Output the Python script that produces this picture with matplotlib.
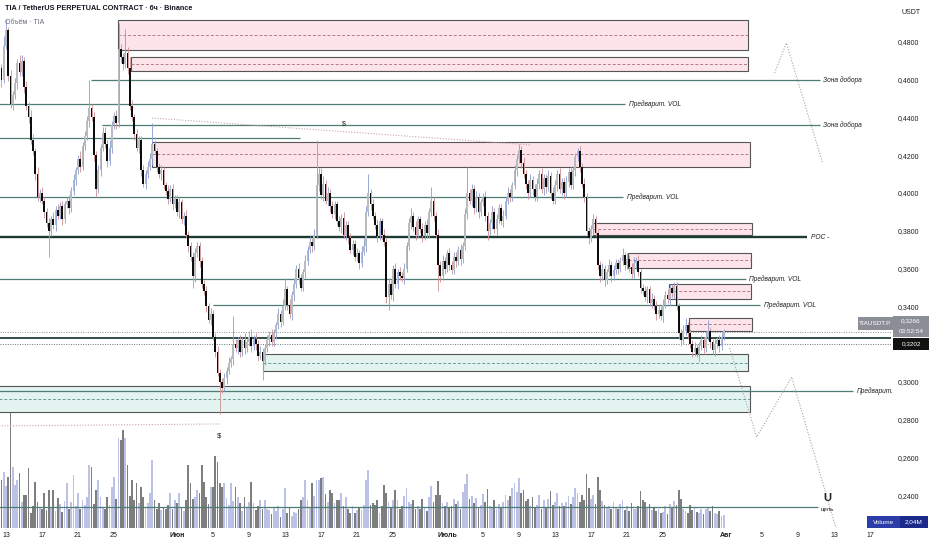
import numpy as np
import matplotlib.pyplot as plt
from matplotlib.patches import Rectangle

plt.rcParams['font.family'] = ['Liberation Sans', 'DejaVu Sans']

# --- data -----------------------------------------------------------------
# 6h candles starting 12 May (t = days since 12 May), prices in 1/1000 USDT
FIRST_OPEN = 455
CLOSE = [
    452, 466, 460, 478,  486, 462, 447, 452,  458, 469, 464, 470,  456, 446, 440, 428,
    422, 410, 398, 400,  396, 390, 384, 380,  386, 383, 391, 388,  393, 386, 394, 396,
    392, 401, 407, 412,  418, 414, 425, 430,  438, 445, 440, 420,  402, 412, 424, 432,
    426, 417, 424, 436,  441, 437, 476, 472,  468, 474, 466, 446,  440, 431, 424, 428,
    412, 405, 410, 414,  418, 426, 422, 414,  410, 412, 404, 401,  397, 402, 394, 397,
    390, 395, 386, 388,  378, 372, 366, 356,  368, 372, 364, 352,  348, 340, 333, 336,
    324, 316, 305, 300,  297, 302, 306, 310,  312, 320, 318, 322,  316, 322, 318, 321,
    324, 319, 323, 320,  314, 316, 311, 318,  322, 325, 321, 326,  330, 336, 332, 340,
    349, 341, 336, 346,  352, 360, 355, 350,  358, 364, 370, 374,  372, 378, 404, 410,
    399, 405, 396, 400,  393, 389, 394, 385,  382, 387, 378, 383,  376, 370, 373, 366,
    368, 363, 369, 372,  390, 400, 394, 388,  383, 377, 385, 378,  374, 345, 352, 346,
    360, 352, 358, 356,  355, 360, 372, 384,  388, 382, 378, 386,  381, 377, 383, 379,
    390, 396, 388, 378,  362, 356, 364, 360,  368, 362, 359, 366,  364, 370, 365, 372,
    389, 400, 396, 402,  392, 398, 390, 395,  398, 388, 380, 384,  390, 381, 386, 392,
    385, 388, 396, 400,  398, 404, 412, 418,  423, 416, 410, 405,  400, 407, 402, 398,
    405, 410, 402, 408,  403, 409, 400, 396,  404, 410, 402, 406,  400, 406, 411, 404,
    412, 419, 422, 414,  405, 398, 380, 376,  381, 386, 379, 362,  356, 360, 354, 358,
    362, 356, 359, 363,  360, 364, 367, 362,  365, 361, 357, 363,  364, 358, 350, 348,
    345, 349, 342, 344,  340, 336, 338, 335,  341, 346, 344, 350,  347, 351, 340, 326,
    322, 327, 330, 326,  320, 316, 318, 315,  319, 322, 318, 324,  327, 321, 317, 320,
    322, 319, 324, 327,
]
UP_WICK = [
    3, 4, 2, 5,  6, 2, 3, 2,  3, 2, 4, 3,  2, 3, 2, 4,  3, 2, 4, 2,  3, 2, 2, 3,
    2, 4, 2, 3,  2, 3, 2, 2,  3, 2, 3, 2,  2, 4, 2, 3,  3, 15, 2, 3,  2, 3, 2, 3,
    3, 2, 4, 2,  2, 3, 14, 3,  2, 13, 3, 6,  3, 2, 3, 2,  2, 3, 2, 3,  3, 11, 2, 2,
    2, 3, 2, 2,  3, 2, 3, 2,  2, 3, 2, 2,  3, 2, 2, 3,  3, 2, 2, 2,  2, 3, 2, 3,
    2, 2, 3, 2,  2, 3, 2, 3,  2, 15, 3, 2,  3, 2, 4, 2,  3, 4, 2, 3,  2, 3, 2, 2,
    3, 2, 3, 2,  2, 3, 2, 4,  6, 2, 3, 2,  3, 2, 3, 2,  2, 3, 2, 3,  2, 3, 24, 3,
    3, 4, 2, 3,  2, 3, 2, 2,  3, 2, 3, 2,  2, 3, 2, 2,  3, 2, 3, 4,  3, 10, 2, 3,
    2, 3, 2, 2,  3, 2, 3, 2,  2, 3, 2, 3,  2, 3, 2, 3,  4, 2, 3, 2,  2, 3, 2, 3,
    2, 7, 2, 2,  3, 2, 3, 2,  2, 3, 2, 3,  3, 2, 3, 2,  3, 14, 2, 3,  2, 3, 2, 2,
    2, 3, 2, 2,  3, 2, 3, 2,  2, 3, 2, 3,  2, 2, 3, 2,  3, 2, 3, 2,  2, 3, 2, 3,
    3, 2, 3, 2,  2, 3, 2, 3,  3, 2, 3, 2,  2, 3, 2, 3,  2, 2, 2, 3,  2, 3, 2, 2,
    2, 3, 2, 2,  2, 3, 2, 2,  3, 2, 3, 2,  2, 2, 4, 2,  3, 2, 2, 3,  2, 3, 2, 2,
    3, 2, 2, 3,  2, 3, 2, 2,  3, 2, 3, 2,  2, 2, 2, 2,  2, 3, 4, 2,  2, 2, 3, 2,
    2, 3, 2, 3,  6, 2, 2, 3,  2, 3, 3, 1,
]
DOWN_WICK = [
    3, 2, 4, 2,  2, 3, 2, 3,  2, 3, 2, 2,  3, 2, 3, 2,  2, 3, 2, 3,  2, 3, 2, 14,
    3, 2, 3, 2,  2, 3, 2, 2,  3, 2, 2, 3,  2, 3, 2, 2,  2, 3, 2, 3,  4, 2, 3, 2,
    2, 3, 2, 3,  2, 3, 2, 3,  3, 2, 3, 2,  2, 3, 2, 3,  3, 2, 3, 2,  2, 3, 2, 3,
    2, 3, 2, 2,  3, 2, 3, 2,  2, 3, 2, 3,  2, 3, 2, 6,  3, 2, 3, 2,  2, 3, 2, 3,
    2, 3, 2, 17,  3, 2, 3, 2,  2, 3, 2, 3,  3, 2, 3, 2,  2, 3, 2, 3,  3, 2, 10, 2,
    2, 3, 2, 2,  3, 2, 3, 2,  2, 3, 2, 3,  3, 2, 3, 2,  2, 3, 2, 2,  3, 2, 2, 3,
    2, 3, 2, 3,  3, 2, 3, 2,  2, 3, 2, 3,  3, 2, 3, 2,  2, 3, 2, 2,  3, 2, 3, 2,
    2, 3, 2, 3,  2, 3, 7, 2,  3, 2, 3, 2,  2, 3, 2, 2,  3, 2, 3, 2,  2, 3, 2, 3,
    3, 2, 3, 2,  14, 3, 2, 3,  2, 3, 2, 2,  3, 2, 3, 2,  2, 3, 2, 3,  3, 2, 3, 2,
    2, 3, 5, 2,  3, 2, 3, 2,  2, 3, 2, 2,  3, 2, 2, 3,  2, 3, 2, 3,  3, 2, 3, 2,
    2, 3, 2, 3,  3, 2, 3, 2,  2, 3, 2, 3,  3, 2, 3, 2,  2, 3, 2, 3,  2, 3, 2, 3,
    2, 3, 2, 2,  3, 2, 3, 2,  2, 3, 2, 2,  3, 2, 2, 3,  2, 3, 2, 2,  3, 2, 3, 2,
    2, 3, 2, 3,  2, 3, 2, 2,  3, 2, 2, 3,  2, 3, 2, 3,  3, 2, 2, 3,  2, 3, 2, 2,
    4, 2, 3, 2,  2, 3, 2, 3,  2, 3, 2, 2,
]
VOLUME = [  # millions of TIA
    9.0, 11.1, 7.5, 8.8,  6.5, 8.0, 20.3, 9.5,  6.7, 7.5, 8.6, 4.0,  5.2, 5.2, 9.4, 2.4,
    3.5, 7.2, 4.0, 3.1,  3.0, 5.5, 2.8, 5.9,  3.3, 5.9, 2.6, 4.7,  3.8, 2.5, 4.2, 7.0,
    3.0, 4.1, 8.3, 3.4,  5.5, 2.9, 4.4, 3.6,  4.9, 9.8, 9.5, 3.8,  5.9, 7.5, 4.9, 3.2,
    3.0, 4.9, 3.6, 6.4,  8.0, 4.6, 14.1, 13.8,  15.3, 14.1, 9.8, 5.0,  7.5, 4.4, 7.0, 3.9,
    6.4, 4.9, 3.3, 3.9,  5.5, 10.6, 4.4, 3.0,  3.9, 2.8, 3.3, 3.0,  3.6, 5.5, 2.9, 4.4,
    3.9, 5.5, 3.1, 2.6,  4.4, 9.8, 7.0, 4.6,  4.9, 5.9, 5.5, 9.8,  7.2, 4.8, 3.8, 6.4,
    6.4, 11.3, 10.3, 7.0,  6.4, 7.0, 4.7, 3.6,  7.0, 4.2, 6.4, 4.9,  3.9, 2.7, 4.9, 3.3,
    4.0, 7.2, 3.9, 2.8,  3.5, 4.4, 2.9, 4.4,  3.0, 2.8, 2.2, 3.3,  2.6, 3.4, 1.7, 3.0,
    6.3, 2.4, 3.1, 1.8,  2.5, 2.3, 3.0, 4.4,  4.9, 7.5, 4.4, 3.2,  7.0, 5.0, 7.5, 7.5,
    7.8, 8.0, 5.3, 4.0,  5.9, 5.5, 3.9, 4.4,  4.4, 5.5, 3.5, 4.9,  3.0, 2.3, 3.4, 2.3,
    2.8, 3.2, 2.8, 3.6,  7.5, 9.1, 3.6, 3.9,  3.6, 4.4, 2.3, 3.4,  6.7, 5.5, 4.0, 3.1,
    4.4, 5.9, 4.4, 3.0,  3.5, 5.0, 6.2, 4.1,  3.8, 4.4, 2.9, 3.5,  3.0, 4.6, 3.2, 2.7,
    4.8, 6.5, 4.0, 5.2,  7.3, 5.1, 3.9, 3.4,  4.0, 3.1, 3.5, 4.6,  3.8, 4.2, 3.0, 5.6,
    6.9, 8.4, 4.5, 5.0,  3.9, 4.7, 3.3, 3.6,  5.3, 4.0, 6.1, 3.4,  3.2, 4.3, 2.9, 3.8,
    3.1, 4.0, 5.2, 4.4,  5.0, 6.3, 7.1, 5.6,  7.8, 5.4, 6.0, 4.2,  4.6, 3.5, 4.9, 3.3,
    3.6, 5.1, 3.0, 4.3,  3.3, 4.5, 5.8, 3.6,  4.0, 5.4, 3.4, 3.9,  3.4, 4.1, 5.0, 3.7,
    4.8, 6.2, 5.5, 4.0,  5.1, 4.3, 8.5, 6.2,  4.6, 5.2, 3.8, 7.9,  6.0, 4.2, 3.6, 3.1,
    3.5, 2.9, 4.0, 3.3,  3.0, 3.8, 4.4, 2.8,  3.4, 2.7, 3.9, 3.0,  2.9, 3.5, 5.8, 4.4,
    4.0, 3.2, 3.7, 2.8,  3.3, 2.6, 3.0, 2.4,  2.5, 3.4, 2.2, 3.8,  3.1, 4.2, 3.6, 6.0,
    4.5, 3.0, 2.7, 2.4,  3.6, 2.8, 3.2, 2.5,  2.4, 2.9, 2.2, 3.0,  3.1, 2.6, 3.4, 2.3,
    2.2, 2.6, 1.9, 2.04,
]
LAST_PRICE = 0.3266
MARK_PRICE = 0.3202

# horizontal levels: price, start day, end day, label
LEVEL_PRICE = [0.4598, 0.4471, 0.4360, 0.4291, 0.3979, 0.3545, 0.3407, 0.2952, 0.2339]
LEVEL_START = [10.4, -1, 11.7, -1, -1, -1, 24.0, -1, -1]
LEVEL_END = [91.4, 69.8, 91.4, 33.7, 69.6, 83.2, 84.8, 95.1, 91.2]
LEVEL_LABEL = ['Зона добора', 'Предварит. VOL', 'Зона добора', '', 'Предварит. VOL',
               'Предварит. VOL', 'Предварит. VOL', 'Предварит.', '']
POC_PRICE, POC_END = 0.3767, 90.0
SUPPORT_PRICE = 0.3233

# zones: start day, end day, top, bottom
SUPPLY_START = [13.4, 14.9, 17.2, 66.2, 70.1, 74.7, 76.9]
SUPPLY_END = [83.4, 83.4, 83.7, 83.9, 83.8, 83.8, 83.9]
SUPPLY_TOP = [0.4915, 0.4720, 0.4270, 0.3841, 0.3683, 0.3519, 0.3339]
SUPPLY_BOT = [0.4757, 0.4646, 0.4138, 0.3778, 0.3603, 0.3439, 0.3270]
DEMAND_START = [29.6, -1]
DEMAND_END = [83.4, 83.7]
DEMAND_TOP = [0.3148, 0.2979]
DEMAND_BOT = [0.3058, 0.2841]

# projected path (dotted zigzags)
PATH_UP_T = [86.4, 87.7, 91.7]
PATH_UP_P = [0.4635, 0.4794, 0.4164]
PATH_DN_T = [81.4, 84.4, 88.3, 93.7]
PATH_DN_P = [0.3180, 0.2709, 0.3026, 0.2150]
LIQ_HIGH_T, LIQ_HIGH_P = [17.2, 59.4], [0.4397, 0.4254]
LIQ_LOW_T, LIQ_LOW_P = [-1, 24.8], [0.2767, 0.2778]

DAY_TICKS = [1, 5, 9, 13, 20, 24, 28, 32, 36, 40, 44, 50, 54, 58, 62, 66, 70, 74, 81, 85, 89, 93, 97]
DAY_LABELS = ['13', '17', '21', '25', 'Июн', '5', '9', '13', '17', '21', '25', 'Июль',
              '5', '9', '13', '17', '21', '25', 'Авг', '5', '9', '13', '17']
# 0,3200 sits under the price tags, so it is not listed
PRICE_TICKS = [0.24, 0.26, 0.28, 0.30, 0.34, 0.36, 0.38, 0.40, 0.42, 0.44, 0.46, 0.48]

# --- layout ---------------------------------------------------------------
W, H = 932, 550
PANE_R, PANE_B = 891, 528
LINE_C = '#4f7d75'
TXT = '#1e1e1e'

c = np.array(CLOSE) / 1000
o = np.concatenate([[FIRST_OPEN / 1000], c[:-1]])
hi = np.maximum(o, c) + np.array(UP_WICK) / 1000
lo = np.minimum(o, c) - np.array(DOWN_WICK) / 1000
t = np.arange(len(c)) * 0.25
up = c >= o

fig = plt.figure(figsize=(W / 100, H / 100), dpi=100)
fig.patch.set_facecolor('white')
axv = fig.add_axes([0, 1 - PANE_B / H, PANE_R / W, PANE_B / H])
ax = axv.twinx()

ax.set_xlim(3 / 9, (PANE_R + 3) / 9)
ax.set_ylim(0.22275, 0.50212)
axv.set_ylim(0, PANE_B / 6.4)

# volume
axv.bar(t, VOLUME, width=0.19, color=np.where(up, '#bcc1e6', '#7e7e7e'), linewidth=0)

# zones
for x0, x1, top, bot in zip(SUPPLY_START, SUPPLY_END, SUPPLY_TOP, SUPPLY_BOT):
    ax.add_patch(Rectangle((x0, bot), x1 - x0, top - bot, facecolor='#fce4ea',
                           edgecolor='#555555', lw=0.8, zorder=1))
    ax.hlines((top + bot) / 2, x0, x1, colors='#b07c87', linestyles=(0, (3, 2)), lw=0.7, zorder=1)
for x0, x1, top, bot in zip(DEMAND_START, DEMAND_END, DEMAND_TOP, DEMAND_BOT):
    ax.add_patch(Rectangle((x0, bot), x1 - x0, top - bot, facecolor='#e2f3f0',
                           edgecolor='#555555', lw=0.8, zorder=1))
    ax.hlines((top + bot) / 2, x0, x1, colors='#6f9993', linestyles=(0, (3, 2)), lw=0.7, zorder=1)

# levels
for p, x0, x1, lab in zip(LEVEL_PRICE, LEVEL_START, LEVEL_END, LEVEL_LABEL):
    ax.hlines(p, x0, x1, colors=LINE_C, lw=0.9, zorder=2)
    if lab:
        ax.text(x1 + 0.4, p, lab, fontsize=4.8, style='italic', color=TXT, va='center', zorder=5)
ax.hlines(POC_PRICE, -1, POC_END, colors='#1d3a35', lw=1.7, zorder=2)
ax.text(POC_END + 0.4, POC_PRICE, 'POC -', fontsize=4.8, style='italic', color=TXT, va='center')
ax.axhline(SUPPORT_PRICE, color='#22403b', lw=1.3, zorder=2)
ax.axhline(LAST_PRICE, color='#8a8d96', lw=0.7, ls=(0, (1, 1.5)), zorder=2)
ax.axhline(MARK_PRICE, color='#6d6f78', lw=0.7, ls=(0, (1, 1.5)), zorder=2)

# liquidity marks and projected path
ax.plot(LIQ_HIGH_T, LIQ_HIGH_P, color='#c9a3aa', lw=0.8, ls=(0, (1, 1.5)), zorder=2)
ax.plot(LIQ_LOW_T, LIQ_LOW_P, color='#c9a3aa', lw=0.8, ls=(0, (1, 1.5)), zorder=2)
ax.text(38.6, 0.4365, '$', fontsize=5, color=TXT, ha='center', va='center')
ax.text(24.7, 0.2714, '$', fontsize=5.5, color=TXT, ha='center', va='center')
ax.plot(PATH_UP_T, PATH_UP_P, color='#a5a5a5', lw=0.8, ls=(0, (1, 1.5)), zorder=2)
ax.plot(PATH_DN_T, PATH_DN_P, color='#a5a5a5', lw=0.8, ls=(0, (1, 1.5)), zorder=2)
ax.text(92.3, 0.2386, 'U', fontsize=8, fontweight='bold', color='#222222', ha='center', va='center')
ax.text(92.3, 0.2326, 'цель', fontsize=4.5, color=TXT, ha='center', va='center')

# candles
ax.vlines(t, lo, hi, colors=np.where(up, '#8fa3d6', '#cf9898'), lw=0.65, zorder=3)
ax.bar(t, np.maximum(np.abs(c - o), 0.0006), bottom=np.minimum(o, c), width=0.22,
       color=np.where(up, '#b9bbc3', '#0d0d0d'), linewidth=0, zorder=4)

# axes styling
for a in (ax, axv):
    for s in a.spines.values():
        s.set_visible(False)
axv.set_yticks([])
ax.set_yticks(PRICE_TICKS)
ax.set_yticklabels([f'{p:.4f}'.replace('.', ',') for p in PRICE_TICKS])
ax.tick_params(axis='y', length=0, pad=5, labelsize=5, labelcolor=TXT)
axv.set_xticks(DAY_TICKS)
axv.set_xticklabels(DAY_LABELS)
axv.tick_params(axis='x', length=0, pad=3, labelsize=5, labelcolor=TXT)
for lab in axv.get_xticklabels():
    if not lab.get_text().isdigit():
        lab.set_fontweight('bold')


def px(x, y):
    return x / W, 1 - y / H


fig.text(*px(5, 9), 'TIA / TetherUS PERPETUAL CONTRACT · 6ч · Binance', fontsize=5.2,
         color='#131722', va='center', fontweight='semibold')
fig.text(*px(5, 23), 'Объём · TIA', fontsize=5, color='#6a6d78', va='center')
fig.text(*px(911, 12), 'USDT', fontsize=5, color=TXT, ha='center', va='center')


def tag(x0, y0, w, h, color, lines, fs=4.6):
    fig.patches.append(Rectangle(px(x0, y0 + h), w / W, h / H, facecolor=color,
                                 edgecolor='none', transform=fig.transFigure, figure=fig))
    n = len(lines)
    for i, s in enumerate(lines):
        fig.text(*px(x0 + w / 2, y0 + h * (i + 0.5) / n), s, fontsize=fs, color='white',
                 ha='center', va='center')


tag(858, 317, 35, 13, '#8b8e97', ['TIAUSDT.P'])
tag(893, 316, 36, 21, '#8b8e97', ['0,3266', '03:52:54'])
tag(893, 338, 36, 12, '#111111', ['0,3202'])
tag(867, 516, 33, 12, '#2d3da8', ['Volume'])
tag(900, 516, 28, 12, '#1b2a8a', ['2,04M'])

fig.savefig('out.png', dpi=100, facecolor='white')
